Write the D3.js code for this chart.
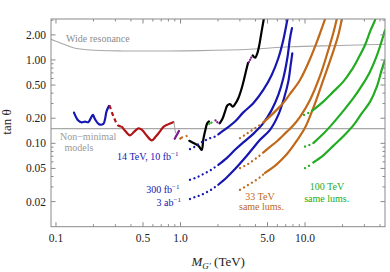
<!DOCTYPE html>
<html><head><meta charset="utf-8">
<script src="https://cdn.jsdelivr.net/npm/d3@7"></script>
<style>body{margin:0;background:#fff}svg{display:block;font-family:"Liberation Serif","Times New Roman",serif}</style>
</head><body><svg id="c" width="390" height="272"></svg>
<script>
// ---------- data ----------
const xTickVals = [0.1, 0.5, 1, 5, 10];
const xTickLabels = ["0.1", "0.5", "1.0", "5.0", "10.0"];
const xMinorVals = [0.2,0.3,0.4,0.6,0.7,0.8,0.9,2,3,4,6,7,8,9,20,30,40];
const yTickVals = [2, 1, 0.5, 0.2, 0.1, 0.05, 0.02];
const yTickLabels = ["2.00", "1.00", "0.50", "0.20", "0.10", "0.05", "0.02"];
const yMinorVals = [0.03,0.04,0.06,0.07,0.08,0.09,0.3,0.4,0.6,0.7,0.8,0.9,3];
const nonMinimalLevel = 0.15;

const wideResonance = [[0.0912,1.770],[0.1076,1.612],[0.1377,1.404],[0.1875,1.318],[0.3452,1.282],[0.6846,1.282],[1.434,1.293],[3.615,1.343],[7.577,1.439],[19.11,1.492],[43.9,1.542]];

const blueObserved = [[0.1395,0.2338],[0.1510,0.1875],[0.1609,0.1784],[0.1709,0.1824],[0.1817,0.1794],[0.1910,0.2020],[0.1982,0.2195],[0.2057,0.1949],[0.2228,0.1688],[0.2399,0.1712],[0.2554,0.2450],[0.2665,0.2813]];
const redDashed = [[0.2690,0.2851],[0.2896,0.2106],[0.3148,0.1642],[0.3389,0.1576]];
const redObserved = [[0.3389,0.1576],[0.3650,0.1373],[0.3930,0.1247],[0.4232,0.1373],[0.4600,0.1512],[0.4907,0.1451],[0.5332,0.1247],[0.5871,0.1086],[0.6356,0.1213],[0.6846,0.1392],[0.7301,0.1576],[0.7936,0.1688],[0.8753,0.1794]];
const grayConnector = [[0.8867,0.1784],[0.9117,0.1335]];
const purpleObserved = [[0.8982,0.1133],[0.9727,0.1411]];
const brownDashed = [[0.9817,0.1123],[1.047,0.1197],[1.138,0.1230]];
const blackObserved1 = [[1.177,0.1072],[1.308,0.0986],[1.390,0.0941],[1.480,0.0836],[1.524,0.1102],[1.573,0.1384],[1.642,0.1746],[1.694,0.1834]];
const greenDots = [[1.70,0.172],[1.77,0.177],[1.84,0.183]];
const purpleDots1 = [[1.910,0.1886],[1.983,0.1784],[2.057,0.1736]];
const blackObserved2 = [[2.076,0.1760],[2.183,0.2003],[2.278,0.2403],[2.376,0.2836],[2.498,0.2947],[2.626,0.2759],[2.741,0.2947],[2.913,0.3478],[3.102,0.4582],[3.254,0.6036],[3.401,0.7954],[3.485,0.9206]];
const purpleDots2 = [[3.549,0.946],[3.650,1.028],[3.752,1.117]];
const blackObserved3 = [[3.802,1.132],[3.967,1.065],[4.140,1.203],[4.295,1.512],[4.433,1.992],[4.625,2.875],[4.728,3.46]];

const blue10fbDots = [[1.192,0.0852],[1.308,0.0915],[1.434,0.1006],[1.573,0.1080],[1.726,0.1154],[1.893,0.1206],[2.012,0.1282]];
const blue10fb = [[2.012,0.1282],[2.350,0.1521],[2.741,0.1824],[3.195,0.2350],[3.843,0.3030],[4.625,0.4371],[5.402,0.6612],[6.104,1.048],[6.694,1.736],[7.208,3.013],[7.370,3.55]];
const blue300fbDots = [[1.192,0.03656],[1.308,0.03830],[1.434,0.04080],[1.573,0.04396],[1.726,0.04722],[1.893,0.05188],[2.012,0.05527]];
const blue300fb = [[2.012,0.05527],[2.350,0.06648],[2.741,0.08359],[3.195,0.1028],[3.843,0.1300],[4.625,0.1745],[5.402,0.2519],[6.104,0.3808],[6.694,0.6036],[7.208,1.048],[7.577,1.819],[7.863,2.416]];
const blue3abDots = [[1.192,0.02147],[1.308,0.02268],[1.434,0.02371],[1.573,0.02533],[1.726,0.02721],[1.893,0.02988],[2.012,0.03184]];
const blue3ab = [[2.012,0.03184],[2.350,0.03894],[2.741,0.04909],[3.195,0.06343],[3.732,0.08359],[4.351,0.1102],[5.236,0.1451],[6.104,0.2195],[6.783,0.3478],[7.341,0.5497],[7.674,0.8712],[7.907,1.203]];

const brown1Dots = [[3.006,0.1154],[3.297,0.1264],[3.615,0.1384],[3.967,0.1521],[4.351,0.1665],[4.685,0.1809]];
const brown1 = [[4.685,0.1809],[5.236,0.2106],[5.925,0.2519],[6.694,0.3055],[7.577,0.3916],[9.118,0.5759],[10.97,1.028],[12.79,1.834],[14.03,2.698],[14.88,3.46]];
const brown2Dots = [[3.006,0.05047],[3.401,0.05527],[3.843,0.06257],[4.351,0.07184],[4.685,0.07911]];
const brown2 = [[4.685,0.07911],[5.236,0.09080],[5.925,0.1051],[7.129,0.1373],[7.863,0.1576],[9.118,0.2077],[10.97,0.3319],[13.20,0.6432],[15.39,1.318],[16.88,2.105],[18.07,3.18]];
const brown3Dots = [[3.006,0.02773],[3.401,0.03097],[3.843,0.03459],[4.351,0.03916],[4.772,0.04432]];
const brown3 = [[4.772,0.04432],[5.925,0.05604],[7.129,0.07382],[8.577,0.1072],[10.0,0.1533],[11.66,0.2661],[14.03,0.5759],[16.39,1.117],[18.52,1.992],[19.83,3.18]];

const green1Dots = [[9.817,0.2195],[10.67,0.2318]];
const green1 = [[11.38,0.2450],[14.03,0.3167],[16.88,0.4172],[20.31,0.5497],[23.72,0.7590],[26.80,1.048],[30.34,1.512],[33.28,2.183],[36.50,3.013],[37.53,3.46]];
const green2Dots = [[10.0,0.0915],[10.97,0.0960]];
const green2 = [[11.66,0.1006],[14.03,0.1300],[16.88,0.1760],[20.31,0.2450],[24.43,0.3478],[28.54,0.4883],[33.28,0.7243],[37.67,1.117],[41.31,1.689],[43.9,2.287]];
const green3Dots = [[10.0,0.05047],[10.97,0.05452]];
const green3 = [[11.66,0.05890],[14.03,0.07184],[16.88,0.09333],[20.31,0.1213],[24.43,0.1642],[28.54,0.2287],[33.28,0.3141],[37.67,0.4750],[41.31,0.7590],[43.9,1.0]];

// ---------- setup ----------
const W = 390, H = 272;
const L = 51, R = 385, T = 19, B = 226.7;
const svg = d3.select("#c");
const x = d3.scaleLog().domain([0.0912, 43.9]).range([L, R]);
const y = d3.scaleLog().domain([0.01, 3.1]).range([B, T]);

const COL = {blue:"#1616b0", red:"#b01515", black:"#000", purple:"#7d1f8c", brown:"#c0691a", green:"#22ac22", gray:"#a0a0a0"};

svg.append("defs").append("clipPath").attr("id","clip")
  .append("rect").attr("x",L).attr("y",T).attr("width",R-L).attr("height",B-T);

const plot = svg.append("g").attr("clip-path","url(#clip)");
const smooth = d3.line().x(d=>x(d[0])).y(d=>y(d[1])).curve(d3.curveCatmullRom.alpha(0.5));
const straight = d3.line().x(d=>x(d[0])).y(d=>y(d[1]));

// reference lines
plot.append("path").datum(wideResonance).attr("d", smooth).attr("fill","none").attr("stroke","#a8a8a8").attr("stroke-width",1.1);
plot.append("line").attr("x1",L).attr("x2",R).attr("y1",y(nonMinimalLevel)).attr("y2",y(nonMinimalLevel)).attr("stroke","#a8a8a8").attr("stroke-width",1.1);

function solid(data, color, w, gen){
  plot.append("path").datum(data).attr("d", gen||smooth).attr("fill","none").attr("stroke",color)
    .attr("stroke-width",w||2.2).attr("stroke-linejoin","round").attr("stroke-linecap","round");
}
function dashed(data, color){
  plot.append("path").datum(data).attr("d", smooth).attr("fill","none").attr("stroke",color)
    .attr("stroke-width",2.2).attr("stroke-dasharray","4,3");
}
function dots(data, color, gap){
  plot.append("path").datum(data).attr("d", smooth).attr("fill","none").attr("stroke",color)
    .attr("stroke-width",2.3).attr("stroke-linecap","round").attr("stroke-dasharray","0.01,"+(gap||4.6));
}

solid(blueObserved, COL.blue);
dashed(redDashed, COL.red);
solid(redObserved, COL.red);
solid(grayConnector, COL.gray, 1, straight);
solid(purpleObserved, COL.purple, 2.2, straight);
dashed(brownDashed, COL.brown);
solid(blackObserved1, COL.black);
dots(greenDots, COL.green, 2.5);
dots(purpleDots1, COL.purple, 2.5);
solid(blackObserved2, COL.black);
dots(purpleDots2, COL.purple, 2.5);
solid(blackObserved3, COL.black);

[[blue10fbDots,blue10fb],[blue300fbDots,blue300fb],[blue3abDots,blue3ab]].forEach(([d,s])=>{dots(d,COL.blue);solid(s,COL.blue);});
[[brown1Dots,brown1],[brown2Dots,brown2],[brown3Dots,brown3]].forEach(([d,s])=>{dots(d,COL.brown);solid(s,COL.brown);});
[[green1Dots,green1],[green2Dots,green2],[green3Dots,green3]].forEach(([d,s])=>{dots(d,COL.green);solid(s,COL.green);});

// frame
const fr = svg.append("g");
fr.append("rect").attr("x",L).attr("y",T).attr("width",R-L).attr("height",B-T).attr("fill","none").attr("stroke","#8a8a8a").attr("stroke-width",1);
const tk = "#8a8a8a";
xTickVals.forEach(v=>{
  fr.append("line").attr("x1",x(v)).attr("x2",x(v)).attr("y1",B).attr("y2",B-4.5).attr("stroke",tk);
  fr.append("line").attr("x1",x(v)).attr("x2",x(v)).attr("y1",T).attr("y2",T+4.5).attr("stroke",tk);
});
xMinorVals.forEach(v=>{
  fr.append("line").attr("x1",x(v)).attr("x2",x(v)).attr("y1",B).attr("y2",B-2.5).attr("stroke",tk);
  fr.append("line").attr("x1",x(v)).attr("x2",x(v)).attr("y1",T).attr("y2",T+2.5).attr("stroke",tk);
});
yTickVals.forEach(v=>{
  fr.append("line").attr("x1",L).attr("x2",L+4.5).attr("y1",y(v)).attr("y2",y(v)).attr("stroke",tk);
  fr.append("line").attr("x1",R).attr("x2",R-4.5).attr("y1",y(v)).attr("y2",y(v)).attr("stroke",tk);
});
yMinorVals.forEach(v=>{
  fr.append("line").attr("x1",L).attr("x2",L+2.5).attr("y1",y(v)).attr("y2",y(v)).attr("stroke",tk);
  fr.append("line").attr("x1",R).attr("x2",R-2.5).attr("y1",y(v)).attr("y2",y(v)).attr("stroke",tk);
});
// tick labels
xTickVals.forEach((v,i)=>{
  svg.append("text").attr("x",x(v)).attr("y",242).attr("text-anchor","middle").attr("font-size",11.5).attr("fill","#222").text(xTickLabels[i]);
});
yTickVals.forEach((v,i)=>{
  svg.append("text").attr("x",L-5).attr("y",y(v)+4).attr("text-anchor","end").attr("font-size",11.5).attr("fill","#222").text(yTickLabels[i]);
});
// axis titles
svg.append("text").attr("transform","translate(11,122) rotate(-90)").attr("text-anchor","middle").attr("font-size",13).attr("fill","#222").text("tan θ");
const xt = svg.append("text").attr("x",191.5).attr("y",266).attr("font-size",13).attr("fill","#222");
xt.append("tspan").attr("font-style","italic").text("M");
xt.append("tspan").attr("font-style","italic").attr("font-size",9).attr("dy",3).text("G′");
xt.append("tspan").attr("dy",-3).text(" (TeV)");

// annotations
function label(tx, ty, parts, color, anchor){
  const t = svg.append("text").attr("x",tx).attr("y",ty).attr("font-size",10).attr("fill",color).attr("text-anchor",anchor||"start");
  parts.forEach(p=>{
    if (typeof p === "string") t.append("tspan").text(p);
    else t.append("tspan").attr("font-size",7).attr("dy",-4).text(p.sup);
  });
  return t;
}
label(66, 41.5, ["Wide resonance"], "#8c8c8c");
label(60, 140, ["Non−minimal"], "#9a9a9a");
label(64.5, 150.5, ["models"], "#9a9a9a");
label(178.5, 159.5, ["14 TeV, 10 fb", {sup:"−1"}], COL.blue, "end");
label(179.5, 192.5, ["300 fb", {sup:"−1"}], COL.blue, "end");
label(181, 205.5, ["3 ab", {sup:"−1"}], COL.blue, "end");
label(260, 200, ["33 TeV"], COL.brown, "middle");
label(261.5, 210, ["same lums."], COL.brown, "middle");
label(327, 189.5, ["100 TeV"], COL.green, "middle");
label(326.7, 201.5, ["same lums."], COL.green, "middle");
</script></body></html>
